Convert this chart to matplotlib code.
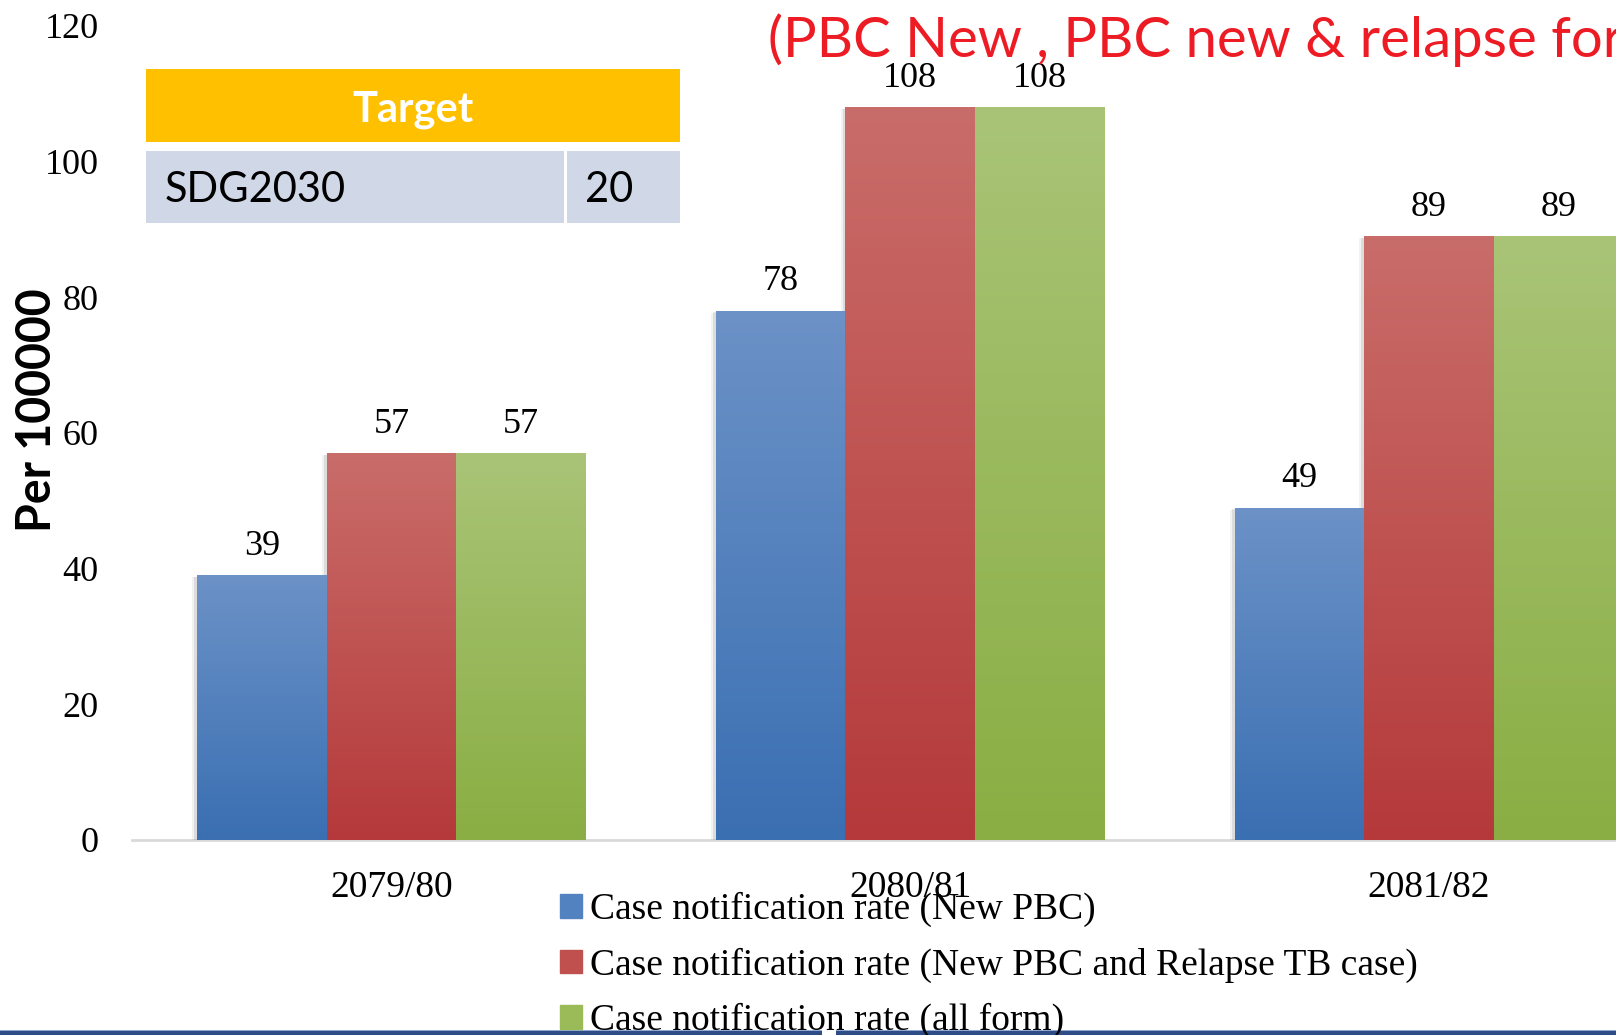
import numpy as np
import matplotlib.pyplot as plt
from matplotlib.patches import Rectangle
from matplotlib import patheffects as pe
from matplotlib.colors import LinearSegmentedColormap

# case notification rates per 100000
years = ["2079/80", "2080/81", "2081/82"]
new_pbc = [39, 78, 49]
new_relapse = [57, 108, 89]
all_form = [57, 108, 89]
series_names = [
    "Case notification rate (New PBC)",
    "Case notification rate (New PBC and Relapse TB case)",
    "Case notification rate (all form)",
]
yticks = [0, 20, 40, 60, 80, 100, 120]
target_label = "SDG2030"
target_value = 20
title = "(PBC New , PBC new & relapse for all form)"

plt.rcParams["font.family"] = ["Liberation Serif", "DejaVu Serif"]

W, H = 1616, 1035
fig = plt.figure(figsize=(W / 100, H / 100), dpi=100)


def fx(px):
    return px / W


def fy(py):
    return 1 - py / H


def box(x0, y0, x1, y1, color):
    fig.add_artist(Rectangle((fx(x0), fy(y1)), fx(x1) - fx(x0), fy(y0) - fy(y1),
                             transform=fig.transFigure, color=color, lw=0))


ax = fig.add_axes([fx(132), fy(840), fx(1688.5) - fx(132), (840 - 25.8) / H])

# (bottom colour, top colour) for the vertical gradient of each series
shades = [("#3A6FB2", "#6C92C7"), ("#B5393A", "#C96D6A"), ("#8AAE43", "#A9C477")]
grad = np.linspace(0, 1, 256).reshape(-1, 1)
x = np.arange(len(years))
w = 0.25
soft_shadow = [
    pe.SimplePatchShadow(offset=(-3.5, -1.5), shadow_rgbFace="#999999", alpha=0.12),
    pe.SimplePatchShadow(offset=(-2, -1), shadow_rgbFace="#888888", alpha=0.2),
    pe.Normal(),
]

for i, vals in enumerate([new_pbc, new_relapse, all_form]):
    bot, top = shades[i]
    bars = ax.bar(x + (i - 1) * w, vals, w, color=bot, zorder=2, path_effects=soft_shadow)
    cmap = LinearSegmentedColormap.from_list("g%d" % i, [bot, top])
    for b in bars:
        x0, h = b.get_x(), b.get_height()
        img = ax.imshow(grad, extent=[x0, x0 + b.get_width(), 0, h], origin="lower",
                        cmap=cmap, aspect="auto", zorder=2.5)
        img.set_clip_path(b)
        ax.annotate(f"{h:g}", (x0 + b.get_width() / 2, h), xytext=(0, 9),
                    textcoords="offset points", ha="center", va="bottom", fontsize=26)

ax.set_xlim(-0.5, 2.5)
ax.set_ylim(0, 120)
ax.set_xticks(x)
ax.set_xticklabels(years)
ax.set_yticks(yticks)
ax.tick_params(axis="both", length=0, labelsize=26)
ax.tick_params(axis="x", labelsize=27, pad=22)
ax.tick_params(axis="y", pad=24)
for s in ["left", "top", "right"]:
    ax.spines[s].set_visible(False)
ax.spines["bottom"].set_color("#D9D9D9")
ax.spines["bottom"].set_linewidth(2)
ax.spines["bottom"].set_zorder(1)

handles = [Rectangle((0, 0), 1, 1, color=c) for c in ["#5282C0", "#C0504D", "#9BBB59"]]
fig.legend(handles, series_names, loc="upper left", bbox_to_anchor=(fx(560), fy(892)),
           frameon=False, fontsize=27, handlelength=0.58, handleheight=0.58,
           handletextpad=0.22, labelspacing=0.54, borderpad=0, borderaxespad=0)

fig.text(fx(37), fy(410), "Per 100000", rotation=90, fontsize=33.5, fontweight="bold",
         family="Lato", ha="center", va="center")
fig.text(fx(768), fy(40), title, color="#ED1C24", fontsize=40.5, family="Lato",
         ha="left", va="center")

# target table
box(146, 69, 680, 142, "#FFC000")
box(146, 151, 564, 223, "#D0D8E8")
box(567, 151, 680, 223, "#D0D8E8")
fig.text(fx(413), fy(110), "Target", color="white", fontsize=30, fontweight="bold",
         family="Lato", ha="center", va="center")
fig.text(fx(165), fy(190), target_label, fontsize=30, family="Lato", ha="left", va="center")
fig.text(fx(585), fy(190), str(target_value), fontsize=30, family="Lato", ha="left", va="center")

# slide footer strip
box(0, 1030, 822, 1031, "#8FA9D4")
box(836, 1030, W, 1031, "#8FA9D4")
box(0, 1031, 822, 1035, "#2E4C85")
box(836, 1031, W, 1035, "#2E4C85")

plt.savefig("out.png", dpi=100)
plt.close()
